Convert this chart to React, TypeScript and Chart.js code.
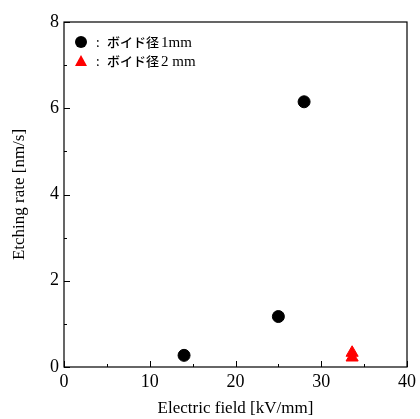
import React, { useEffect, useRef } from "react";
import { Chart, registerables } from "chart.js";

Chart.register(...registerables);

const void1X = [14, 25, 28];
const void1Y = [0.27, 1.17, 6.15];
const void2X = [33.6, 33.6];
const void2Y = [0.33, 0.22];
const legendLabels = ["ボイド径", "ボイド径"];
const legendSizes = ["1mm", "2 mm"];
const xTitle = "Electric field [kV/mm]";
const yTitle = "Etching rate [nm/s]";

const serif = "'Liberation Serif', 'Times New Roman', serif";

const inwardTicks = {
  id: "inwardTicks",
  afterDatasetsDraw(chart: any) {
    const ctx = chart.ctx;
    const { left, right, top, bottom } = chart.chartArea;
    const xs = chart.scales.x;
    const ys = chart.scales.y;
    ctx.save();
    ctx.strokeStyle = "#000";
    ctx.lineWidth = 1;
    ctx.beginPath();
    for (let v = 0; v <= 40; v += 5) {
      const px = Math.round(xs.getPixelForValue(v)) + 0.5;
      const len = v % 10 === 0 ? 6 : 3;
      ctx.moveTo(px, bottom);
      ctx.lineTo(px, bottom - len);
    }
    for (let v = 0; v <= 8; v += 1) {
      const py = Math.round(ys.getPixelForValue(v)) + 0.5;
      const len = v % 2 === 0 ? 6 : 3;
      ctx.moveTo(left, py);
      ctx.lineTo(left + len, py);
    }
    ctx.stroke();
    ctx.lineWidth = 1.2;
    ctx.strokeRect(left, top, right - left, bottom - top);
    ctx.restore();
  },
};

const legendPlugin = {
  id: "customLegend",
  afterDraw(chart: any) {
    const ctx = chart.ctx;
    const { left, top } = chart.chartArea;
    ctx.save();
    chart.data.datasets.forEach((ds: any, i: number) => {
      const cx = left + 17;
      const cy = top + 20 + i * 19;
      ctx.fillStyle = ds.backgroundColor;
      ctx.beginPath();
      if (ds.pointStyle === "triangle") {
        ctx.moveTo(cx, cy - 6);
        ctx.lineTo(cx + 6, cy + 5);
        ctx.lineTo(cx - 6, cy + 5);
        ctx.closePath();
      } else {
        ctx.arc(cx, cy, 6, 0, Math.PI * 2);
      }
      ctx.fill();
      ctx.fillStyle = "#000";
      ctx.textBaseline = "middle";
      ctx.font = "13px 'Noto Sans CJK JP'";
      ctx.fillText(":", cx + 15, cy);
      ctx.font = "500 13px 'Noto Sans CJK JP'";
      ctx.fillText(legendLabels[i], cx + 26, cy);
      const w = ctx.measureText(legendLabels[i]).width;
      ctx.font = "15px " + serif;
      ctx.fillText(legendSizes[i], cx + 28 + w, cy + 1);
    });
    ctx.restore();
  },
};

export default function App() {
  const ref = useRef<HTMLCanvasElement>(null);
  useEffect(() => {
    const chart = new Chart(ref.current!, {
      type: "scatter",
      data: {
        datasets: [
          {
            label: "1mm",
            data: void1X.map((x, i) => ({ x, y: void1Y[i] })),
            backgroundColor: "#000",
            borderColor: "#000",
            pointStyle: "circle",
            pointRadius: 6,
          },
          {
            label: "2mm",
            data: void2X.map((x, i) => ({ x, y: void2Y[i] })),
            backgroundColor: "#ff0000",
            borderColor: "#ff0000",
            pointStyle: "triangle",
            pointRadius: 7,
          },
        ],
      },
      plugins: [inwardTicks, legendPlugin],
      options: {
        animation: false,
        responsive: false,
        maintainAspectRatio: false,
        layout: { padding: { top: 22, right: 11, left: 9, bottom: 0 } },
        plugins: { legend: { display: false }, tooltip: { enabled: false } },
        scales: {
          x: {
            type: "linear",
            min: 0,
            max: 40,
            grid: { display: false, drawTicks: false },
            border: { display: false },
            ticks: {
              stepSize: 10,
              color: "#000",
              padding: 4,
              font: { family: serif, size: 18 },
            },
            title: {
              display: true,
              text: xTitle,
              color: "#000",
              padding: { top: 3, bottom: 0 },
              font: { family: serif, size: 17 },
            },
            afterFit: (s: any) => {
              s.height = 52;
            },
          },
          y: {
            type: "linear",
            min: 0,
            max: 8,
            grid: { display: false, drawTicks: false },
            border: { display: false },
            ticks: {
              stepSize: 2,
              color: "#000",
              padding: 5,
              font: { family: serif, size: 18 },
            },
            title: {
              display: true,
              text: yTitle,
              color: "#000",
              padding: { top: 0, bottom: 6 },
              font: { family: serif, size: 17 },
            },
            afterFit: (s: any) => {
              s.width = 55;
            },
          },
        },
      },
    });
    return () => chart.destroy();
  }, []);
  return (
    <div style={{ position: "fixed", left: 0, top: 0, width: 420, height: 419, background: "#fff" }}>
      <canvas ref={ref} width={420} height={419} style={{ width: 420, height: 419 }} />
    </div>
  );
}
